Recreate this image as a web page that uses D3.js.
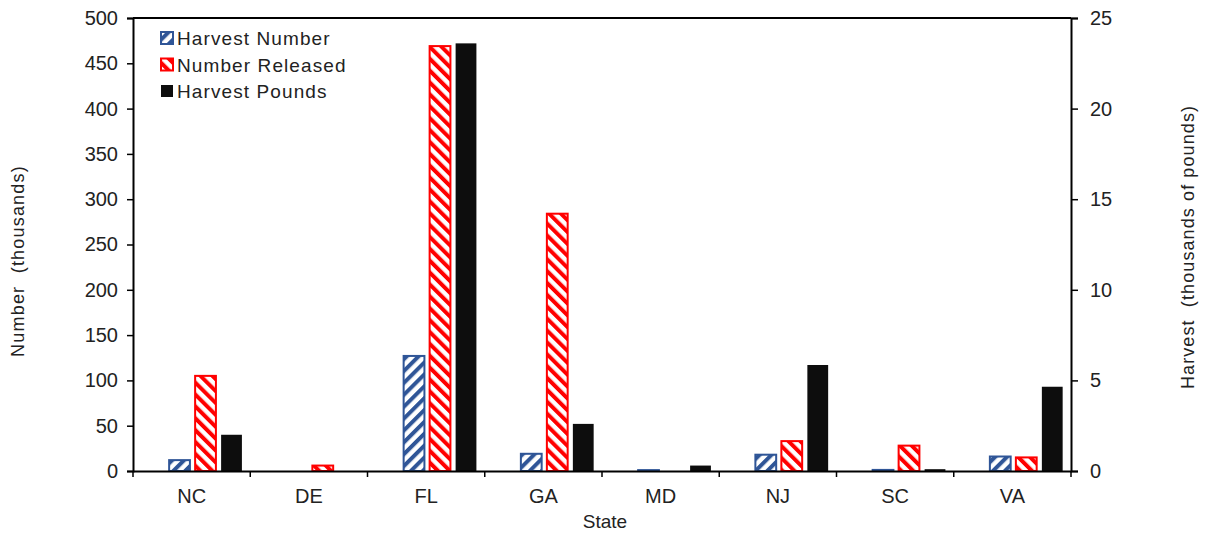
<!DOCTYPE html>
<html>
<head>
<meta charset="utf-8">
<script src="https://cdn.jsdelivr.net/npm/d3@7"></script>
<style>
  html, body { margin: 0; padding: 0; background: #fff; }
  svg { display: block; font-family: "Liberation Sans", Arial, sans-serif; }
</style>
</head>
<body>
<svg id="chart" width="1209" height="533"></svg>
<script>
const categories = ["NC", "DE", "FL", "GA", "MD", "NJ", "SC", "VA"];
const harvestNumber = [12, 0, 127, 19, 1, 18, 1.2, 16];
const numberReleased = [105, 6, 469, 284, 0, 33, 28, 15];
const harvestPounds = [2.0, 0, 23.6, 2.6, 0.3, 5.85, 0.1, 4.65];
const leftTicks = [0, 50, 100, 150, 200, 250, 300, 350, 400, 450, 500];
const rightTicks = [0, 5, 10, 15, 20, 25];
const seriesNames = ["Harvest Number", "Number Released", "Harvest Pounds"];

const W = 1209, H = 533;
const m = { left: 133, right: 1071, top: 18, bottom: 471 };
const blue = "#2F5597", red = "#FF0000", black = "#0d0d0d";

const svg = d3.select("#chart");
const defs = svg.append("defs");
function hatch(id, color, angle) {
  const p = defs.append("pattern").attr("id", id)
    .attr("patternUnits", "userSpaceOnUse").attr("width", 8.4).attr("height", 8.4)
    .attr("patternTransform", `rotate(${angle})`);
  p.append("rect").attr("width", 8.4).attr("height", 8.4).attr("fill", "#fff");
  p.append("rect").attr("width", 4).attr("height", 8.4).attr("fill", color);
}
hatch("hBlue", blue, 45);
hatch("hRed", red, -45);

const x = d3.scaleBand().domain(categories).range([m.left, m.right]).padding(0);
const bw = x.bandwidth();
const inner = d3.scaleBand().domain(seriesNames)
  .range([bw * 0.286, bw * 0.951]).paddingInner(0.2).paddingOuter(0.1);
const yL = d3.scaleLinear().domain([0, 500]).range([m.bottom, m.top]);
const yR = d3.scaleLinear().domain([0, 25]).range([m.bottom, m.top]);

// bars
const series = [
  { name: seriesNames[0], vals: harvestNumber, y: yL, fill: "url(#hBlue)", stroke: blue },
  { name: seriesNames[1], vals: numberReleased, y: yL, fill: "url(#hRed)", stroke: red },
  { name: seriesNames[2], vals: harvestPounds, y: yR, fill: black, stroke: "none" }
];
series.forEach(s => {
  svg.append("g").selectAll("rect")
    .data(categories.map((c, i) => ({ c, v: s.vals[i] })).filter(d => d.v > 0))
    .join("rect")
    .attr("x", d => x(d.c) + inner(s.name))
    .attr("width", inner.bandwidth())
    .attr("y", d => s.y(d.v))
    .attr("height", d => s.y(0) - s.y(d.v))
    .attr("fill", s.fill)
    .attr("stroke", s.stroke)
    .attr("stroke-width", s.stroke === "none" ? 0 : 2);
});

// axes
const axL = svg.append("g").attr("transform", `translate(${m.left},0)`)
  .call(d3.axisLeft(yL).tickValues(leftTicks).tickSizeOuter(0).tickSize(6).tickPadding(9));
const axR = svg.append("g").attr("transform", `translate(${m.right},0)`)
  .call(d3.axisRight(yR).tickValues(rightTicks).tickSizeOuter(0).tickSize(7).tickPadding(12));
const xTicksPos = d3.range(categories.length + 1).map(i => m.left + i * bw);
const axB = svg.append("g").attr("transform", `translate(0,${m.bottom})`)
  .call(d3.axisBottom(x).tickSize(0).tickPadding(18));
axB.selectAll(".tick text").attr("font-size", 20).attr("fill", "#222");
axB.selectAll("line.sep").data(xTicksPos).join("line").attr("class", "sep")
  .attr("x1", d => d).attr("x2", d => d).attr("y1", 0).attr("y2", 6)
  .attr("stroke", "#000").attr("stroke-width", 1.5);
[axL, axR, axB].forEach(a => {
  a.select(".domain").attr("stroke", "#000").attr("stroke-width", 2);
  a.selectAll(".tick line").attr("stroke", "#000").attr("stroke-width", 1.5);
  a.selectAll("text").attr("font-family", "Liberation Sans, Arial, sans-serif");
});
[axL, axR].forEach(a => a.selectAll(".tick text").attr("font-size", 20).attr("fill", "#222"));
// top frame
svg.append("line").attr("x1", m.left).attr("x2", m.right).attr("y1", m.top).attr("y2", m.top)
  .attr("stroke", "#000").attr("stroke-width", 2);

// titles
svg.append("text").attr("y", 528).attr("text-anchor", "middle")
  .attr("font-size", 19).attr("fill", "#222").text("State")
  .attr("x", (m.left + m.right) / 2 + 3);
svg.append("text").attr("transform", "translate(24,261) rotate(-90)")
  .attr("text-anchor", "middle").attr("font-size", 18).attr("letter-spacing", 1.2)
  .attr("fill", "#222").style("white-space", "pre").text("Number  (thousands)");
svg.append("text").attr("transform", "translate(1194,247) rotate(-90)")
  .attr("text-anchor", "middle").attr("font-size", 18).attr("letter-spacing", 1.1)
  .attr("fill", "#222").style("white-space", "pre").text("Harvest  (thousands of pounds)");

// legend
const leg = svg.append("g").attr("transform", "translate(160,38)");
const legFill = ["url(#hBlue)", "url(#hRed)", black];
const legStroke = [blue, red, "none"];
seriesNames.forEach((n, i) => {
  const g = leg.append("g").attr("transform", `translate(0,${i * 26.5})`);
  g.append("rect").attr("x", 1).attr("y", -6).attr("width", 12).attr("height", 12)
    .attr("fill", legFill[i]).attr("stroke", legStroke[i]).attr("stroke-width", legStroke[i] === "none" ? 0 : 2);
  g.append("text").attr("x", 17).attr("y", 7).attr("font-size", 19).attr("letter-spacing", 1.1)
    .attr("fill", "#222").text(n);
});
</script>
</body>
</html>
